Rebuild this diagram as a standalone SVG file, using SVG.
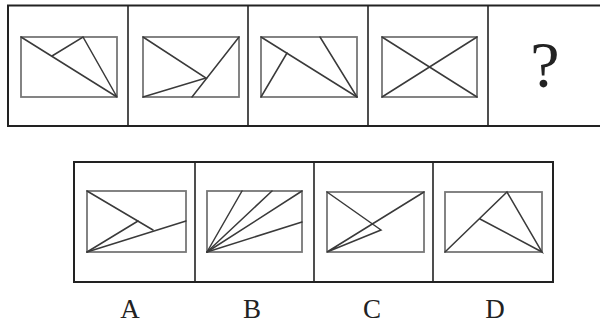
<svg xmlns="http://www.w3.org/2000/svg" width="600" height="324" viewBox="0 0 600 324">
<style>
.frame{fill:none;stroke:#222;stroke-width:2}
.div{stroke:#222;stroke-width:1.6}
.inner{fill:none;stroke:#777;stroke-width:1.8}
.ln{stroke:#3a3a3a;stroke-width:1.5;fill:none;stroke-linecap:round}
.lbl{font-family:"Liberation Serif",serif;font-size:27px;fill:#222;text-anchor:middle}
.q{font-family:"Liberation Serif",serif;font-size:66px;fill:#222;text-anchor:middle}
</style>
<rect width="600" height="324" fill="#fff"/>
<g id="top-frame">
<rect class="frame" x="8" y="5.5" width="594" height="120.5"/>
<line class="div" x1="128" y1="5" x2="128" y2="126"/>
<line class="div" x1="248" y1="5" x2="248" y2="126"/>
<line class="div" x1="368" y1="5" x2="368" y2="126"/>
<line class="div" x1="488" y1="5" x2="488" y2="126"/>
</g>
<g id="fig1">
<rect class="inner" x="21" y="37" width="96" height="60"/>
<polyline class="ln" points="21,37 117,97 83,37 52,56"/>
</g>
<g id="fig2">
<rect class="inner" x="143" y="37" width="96" height="60"/>
<line class="ln" x1="239" y1="37" x2="192" y2="97"/>
<polyline class="ln" points="143,37 206,78 143,97"/>
</g>
<g id="fig3">
<rect class="inner" x="261" y="37" width="96" height="60"/>
<line class="ln" x1="261" y1="37" x2="357" y2="97"/>
<line class="ln" x1="261" y1="97" x2="287" y2="53"/>
<line class="ln" x1="320" y1="37" x2="357" y2="97"/>
</g>
<g id="fig4">
<rect class="inner" x="382" y="37" width="95" height="60"/>
<line class="ln" x1="382" y1="37" x2="477" y2="97"/>
<line class="ln" x1="382" y1="97" x2="477" y2="37"/>
</g>
<g id="fig5">
<text class="q" x="545" y="87">?</text>
</g>
<g id="bottom-frame">
<rect class="frame" x="74" y="162" width="479" height="120"/>
<line class="div" x1="195" y1="162" x2="195" y2="282"/>
<line class="div" x1="314" y1="162" x2="314" y2="282"/>
<line class="div" x1="433" y1="162" x2="433" y2="282"/>
</g>
<g id="optA">
<rect class="inner" x="87" y="191" width="99" height="61"/>
<line class="ln" x1="87" y1="191" x2="153" y2="230"/>
<line class="ln" x1="87" y1="252" x2="138" y2="221"/>
<line class="ln" x1="87" y1="252" x2="186" y2="221"/>
<text class="lbl" x="130" y="318">A</text>
</g>
<g id="optB">
<rect class="inner" x="207" y="191" width="95" height="61"/>
<line class="ln" x1="207" y1="252" x2="242" y2="191"/>
<line class="ln" x1="207" y1="252" x2="272" y2="191"/>
<line class="ln" x1="207" y1="252" x2="302" y2="191"/>
<line class="ln" x1="207" y1="252" x2="302" y2="222"/>
<text class="lbl" x="252" y="318">B</text>
</g>
<g id="optC">
<rect class="inner" x="327" y="192" width="97" height="60"/>
<polyline class="ln" points="327,192 381,230 327,252 424,192"/>
<text class="lbl" x="372" y="318">C</text>
</g>
<g id="optD">
<rect class="inner" x="445" y="192" width="97" height="60"/>
<polyline class="ln" points="445,252 507,192 542,252 480,219"/>
<text class="lbl" x="495" y="318">D</text>
</g>
</svg>
